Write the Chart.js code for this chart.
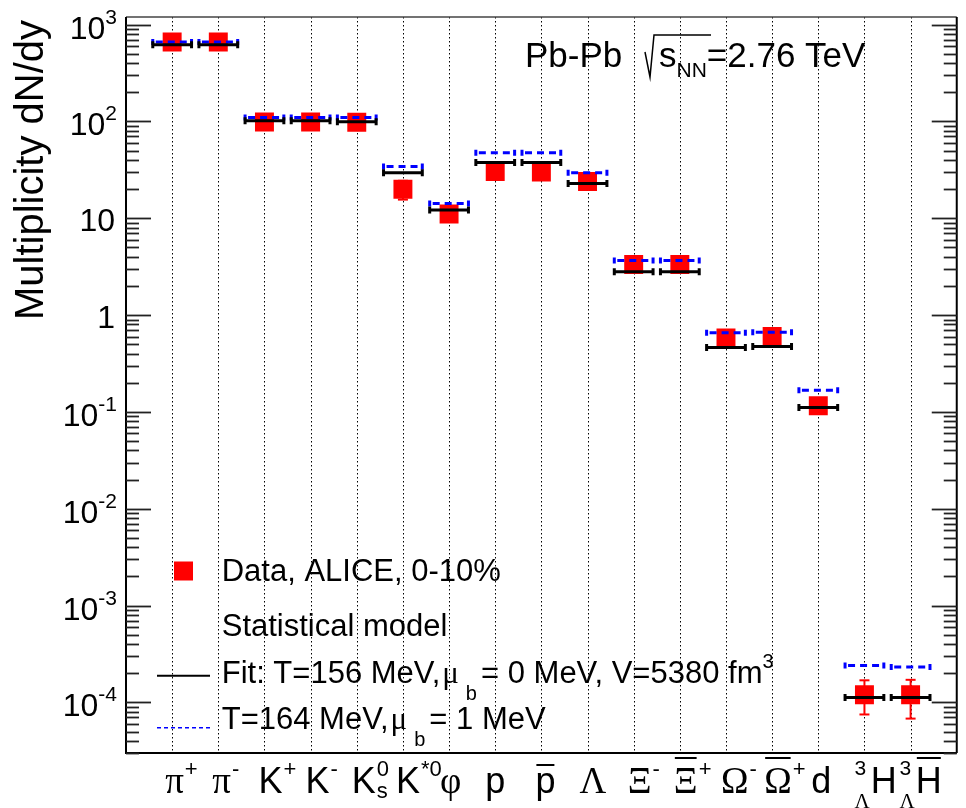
<!DOCTYPE html>
<html>
<head>
<meta charset="utf-8">
<script src="https://cdn.jsdelivr.net/npm/chart.js@4.4.0/dist/chart.umd.min.js"></script>
<style>
  html, body { margin: 0; padding: 0; background: #fff; }
  canvas { display: block; }
</style>
</head>
<body>
<canvas id="yields" width="966" height="808"></canvas>
<script>
// Pb-Pb 2.76 TeV, 0-10% hadron yields vs statistical model
const species = ['pi+', 'pi-', 'K+', 'K-', 'K0s', 'K*0', 'phi', 'p', 'pbar', 'Lambda', 'Xi-', 'Xibar+', 'Omega-', 'Omegabar+', 'd', 'H3L', 'H3Lbar'];
const dataY     = [661, 661, 99, 99, 98, 20, 11.1, 30.5, 30, 24, 3.33, 3.33, 0.58, 0.60, 0.116, 1.2e-4, 1.2e-4];
const dataErrHi = [40, 40, 7, 7, 7, 4.4, 1.1, 2.5, 2.5, 2.4, 0.25, 0.25, 0.05, 0.05, 0.012, 0.49e-4, 0.51e-4];
const dataErrLo = [40, 40, 7, 7, 7, 4.4, 1.1, 2.5, 2.5, 2.4, 0.25, 0.25, 0.05, 0.05, 0.012, 0.45e-4, 0.52e-4];
const fitY = [622, 622, 101.5, 101.5, 99.5, 29.6, 12.2, 37.8, 37.8, 22.9, 2.80, 2.81, 0.464, 0.475, 0.111, 1.12e-4, 1.12e-4];
const altY = [661, 661, 110, 110, 110, 34.3, 14.2, 47.5, 47.5, 29.6, 3.66, 3.66, 0.658, 0.667, 0.167, 2.41e-4, 2.32e-4];

// tick label pieces
const tickMain   = ['π', 'π', 'K', 'K', 'K', 'K', 'φ', 'p', 'p', 'Λ', 'Ξ', 'Ξ', 'Ω', 'Ω', 'd', 'H', 'H'];
const tickSup    = ['+', '-', '+', '-', '0', '*0', '', '', '', '', '-', '+', '-', '+', '', '', ''];
const tickSub    = ['', '', '', '', 's', '', '', '', '', '', '', '', '', '', '', '', ''];
const tickBar    = [0, 0, 0, 0, 0, 0, 0, 0, 1, 0, 0, 1, 0, 1, 0, 0, 1];
const tickPreSup = ['', '', '', '', '', '', '', '', '', '', '', '', '', '', '', '3', '3'];
const tickPreSub = ['', '', '', '', '', '', '', '', '', '', '', '', '', '', '', 'Λ', 'Λ'];
const decades = [-4, -3, -2, -1, 0, 1, 2, 3];

const HALF = 0.42;
const SANS = px => px + 'px "Liberation Sans", Arial, sans-serif';
const SERIF = px => px + 'px "Liberation Serif", "DejaVu Serif", serif';
const GREEK = /[πφΛΞΩμ]/;
// small pixel nudges for the hand-placed bin labels
const labelNudge = [-7, -6, -6, -5, -5, -7, -9, -10, -6, -8, -6, -6, -5, -8, -7, -10, -11];

function segments(vals) {
  const pts = [];
  vals.forEach((v, i) => {
    pts.push({x: i - HALF, y: v}, {x: i + HALF, y: v}, {x: i + 0.5, y: null});
  });
  return pts;
}

function seg(ctx, x1, y1, x2, y2) {
  ctx.beginPath();
  ctx.moveTo(x1, y1);
  ctx.lineTo(x2, y2);
  ctx.stroke();
}

function rich(ctx, x, y, parts) {
  parts.forEach(p => {
    ctx.font = p.font;
    x += p.dx || 0;
    ctx.fillText(p.t, x, y + (p.dy || 0));
    x += ctx.measureText(p.t).width;
  });
  return x;
}

function tw(ctx, font, s) {
  ctx.font = font;
  return s ? ctx.measureText(s).width : 0;
}

function drawBinLabel(ctx, i, left) {
  const base = 793;
  const mainFont = GREEK.test(tickMain[i]) ? SERIF(37) : SANS(36);
  const preW = Math.max(tw(ctx, SANS(21), tickPreSup[i]), tw(ctx, SERIF(21), tickPreSub[i]));
  const mainW = tw(ctx, mainFont, tickMain[i]);
  let x = left;
  if (preW) {
    ctx.font = SANS(21);
    ctx.fillText(tickPreSup[i], x, base - 18);
    ctx.font = SERIF(21);
    ctx.fillText(tickPreSub[i], x, base + 15);
    x += preW + 1;
  }
  ctx.font = mainFont;
  ctx.fillText(tickMain[i], x, base);
  if (tickBar[i]) {
    const top = tickMain[i] === 'p' ? base - 28 : base - 35;
    ctx.lineWidth = 2;
    seg(ctx, x + 1, top, x + mainW - 1, top);
  }
  x += mainW + 1;
  if (tickSup[i]) {
    ctx.font = SANS(22);
    ctx.fillText(tickSup[i], x, base - 17);
  }
  if (tickSub[i]) {
    ctx.font = SANS(22);
    ctx.fillText(tickSub[i], x, base + 5);
  }
}

const decor = {
  id: 'decor',
  beforeDatasetsDraw(chart) {
    const {ctx, chartArea: a, scales: {x, y}} = chart;
    ctx.save();
    ctx.strokeStyle = '#000';
    ctx.lineWidth = 1;
    ctx.setLineDash([1.5, 2.5]);
    species.forEach((_, i) => {
      const px = Math.round(x.getPixelForValue(i)) + 0.5;
      seg(ctx, px, a.top, px, a.bottom);
    });
    ctx.setLineDash([]);
    ctx.strokeStyle = '#ff0000';
    ctx.lineWidth = 2;
    dataY.forEach((v, i) => {
      const px = x.getPixelForValue(i);
      const hi = y.getPixelForValue(v + dataErrHi[i]);
      const lo = y.getPixelForValue(v - dataErrLo[i]);
      seg(ctx, px, hi, px, lo);
      seg(ctx, px - 5, hi, px + 5, hi);
      seg(ctx, px - 5, lo, px + 5, lo);
    });
    ctx.restore();
  },
  afterDatasetsDraw(chart) {
    const {ctx, chartArea: a, scales: {x, y}} = chart;
    const right = x.getPixelForValue(17);
    ctx.save();
    // frame
    ctx.strokeStyle = '#444';
    ctx.lineWidth = 1.5;
    seg(ctx, a.left, a.top, right, a.top);
    ctx.strokeStyle = '#000';
    ctx.lineWidth = 2;
    seg(ctx, a.left, a.top, a.left, a.bottom + 1);
    seg(ctx, a.left - 1, a.bottom, right, a.bottom);
    seg(ctx, right, a.top, right, a.bottom);
    // log ticks, pointing inward on both sides
    ctx.strokeStyle = '#222';
    ctx.lineWidth = 1.8;
    for (let k = -5; k <= 3; k++) {
      for (let m = 1; m <= 9; m++) {
        const v = m * Math.pow(10, k);
        if (v < y.min || v > y.max) continue;
        const py = Math.round(y.getPixelForValue(v)) + 0.5;
        const len = m === 1 ? 25 : 13;
        seg(ctx, a.left, py, a.left + len, py);
        seg(ctx, right, py, right - len, py);
      }
    }
    // decade labels
    ctx.fillStyle = '#000';
    ctx.textBaseline = 'alphabetic';
    decades.forEach(k => {
      const py = y.getPixelForValue(Math.pow(10, k));
      if (k === 0 || k === 1) {
        ctx.font = SANS(32);
        ctx.textAlign = 'right';
        ctx.fillText(k === 0 ? '1' : '10', 115, py + 13);
        ctx.textAlign = 'left';
        return;
      }
      const sup = String(k);
      const sw = tw(ctx, SANS(21), sup);
      ctx.fillText(sup, 117 - sw, py - 1);
      const mw = tw(ctx, SANS(32), '10');
      ctx.fillText('10', 117 - sw - mw, py + 14);
    });
    // bin labels
    ctx.strokeStyle = '#000';
    species.forEach((_, i) => drawBinLabel(ctx, i, x.getPixelForValue(i) + labelNudge[i]));
    // y title
    ctx.save();
    ctx.translate(43, 320);
    ctx.rotate(-Math.PI / 2);
    ctx.font = SANS(40);
    ctx.fillText('Multiplicity dN/dy', 0, 0);
    ctx.restore();
    // system label
    ctx.font = SANS(35);
    ctx.fillText('Pb-Pb', 525, 67);
    ctx.lineWidth = 1.5;
    ctx.beginPath();
    ctx.moveTo(645, 52);
    ctx.lineTo(650, 77);
    ctx.lineTo(654, 35);
    ctx.lineTo(711, 35);
    ctx.stroke();
    rich(ctx, 659, 67, [
      {t: 's', font: SANS(35)},
      {t: 'NN', font: SANS(21), dy: 10},
      {t: '=2.76 TeV', font: SANS(35)}
    ]);
    // legend
    ctx.fillStyle = '#ff0000';
    ctx.fillRect(174, 561.5, 19, 19);
    ctx.fillStyle = '#000';
    ctx.font = SANS(31);
    ctx.fillText('Data, ALICE, 0-10%', 221.7, 581);
    ctx.fillText('Statistical model', 221.7, 636);
    ctx.lineWidth = 2;
    seg(ctx, 157, 675.7, 210, 675.7);
    rich(ctx, 221.7, 683, [
      {t: 'Fit: T=156 MeV,', font: SANS(31)},
      {t: 'μ', font: SERIF(31), dx: 2},
      {t: 'b', font: SANS(20), dy: 17, dx: 7},
      {t: '= 0 MeV, V=5380 fm', font: SANS(31), dx: 4},
      {t: '3', font: SANS(20), dy: -15}
    ]);
    ctx.strokeStyle = '#0000ff';
    ctx.lineWidth = 1.5;
    ctx.setLineDash([4, 3]);
    seg(ctx, 157, 727.7, 210, 727.7);
    ctx.setLineDash([]);
    rich(ctx, 221.7, 729, [
      {t: 'T=164 MeV,', font: SANS(31)},
      {t: 'μ', font: SERIF(31), dx: 2},
      {t: 'b', font: SANS(20), dy: 17, dx: 7},
      {t: '= 1 MeV', font: SANS(31), dx: 4}
    ]);
    ctx.restore();
  }
};

new Chart(document.getElementById('yields').getContext('2d'), {
  type: 'scatter',
  data: {
    datasets: [
      {
        type: 'line',
        label: 'Fit: T=156 MeV',
        data: segments(fitY),
        borderColor: '#000',
        borderWidth: 3,
        spanGaps: false,
        pointStyle: 'line',
        pointRotation: 90,
        pointRadius: 3.5,
        pointBorderWidth: 3,
        pointBorderColor: '#000',
        order: 0
      },
      {
        type: 'line',
        label: 'T=164 MeV',
        data: segments(altY),
        borderColor: '#0000ff',
        borderWidth: 3,
        borderDash: [7, 5],
        borderDashOffset: 9,
        spanGaps: false,
        pointStyle: 'line',
        pointRotation: 90,
        pointRadius: 3,
        pointBorderWidth: 3,
        pointBorderColor: '#0000ff',
        order: 1
      },
      {
        label: 'Data, ALICE, 0-10%',
        data: dataY.map((v, i) => ({x: i, y: v})),
        pointStyle: 'rect',
        pointRadius: 13.4,
        pointBorderWidth: 0,
        pointBackgroundColor: '#ff0000',
        order: 2
      }
    ]
  },
  options: {
    responsive: false,
    animation: false,
    devicePixelRatio: 1,
    events: [],
    layout: {padding: {left: 126, top: 17, right: 0, bottom: 55}},
    plugins: {legend: {display: false}, tooltip: {enabled: false}},
    scales: {
      x: {type: 'linear', min: -1, max: 16.91, display: false},
      y: {type: 'logarithmic', min: 3e-5, max: 1200, display: false}
    }
  },
  plugins: [decor]
});
</script>
</body>
</html>
